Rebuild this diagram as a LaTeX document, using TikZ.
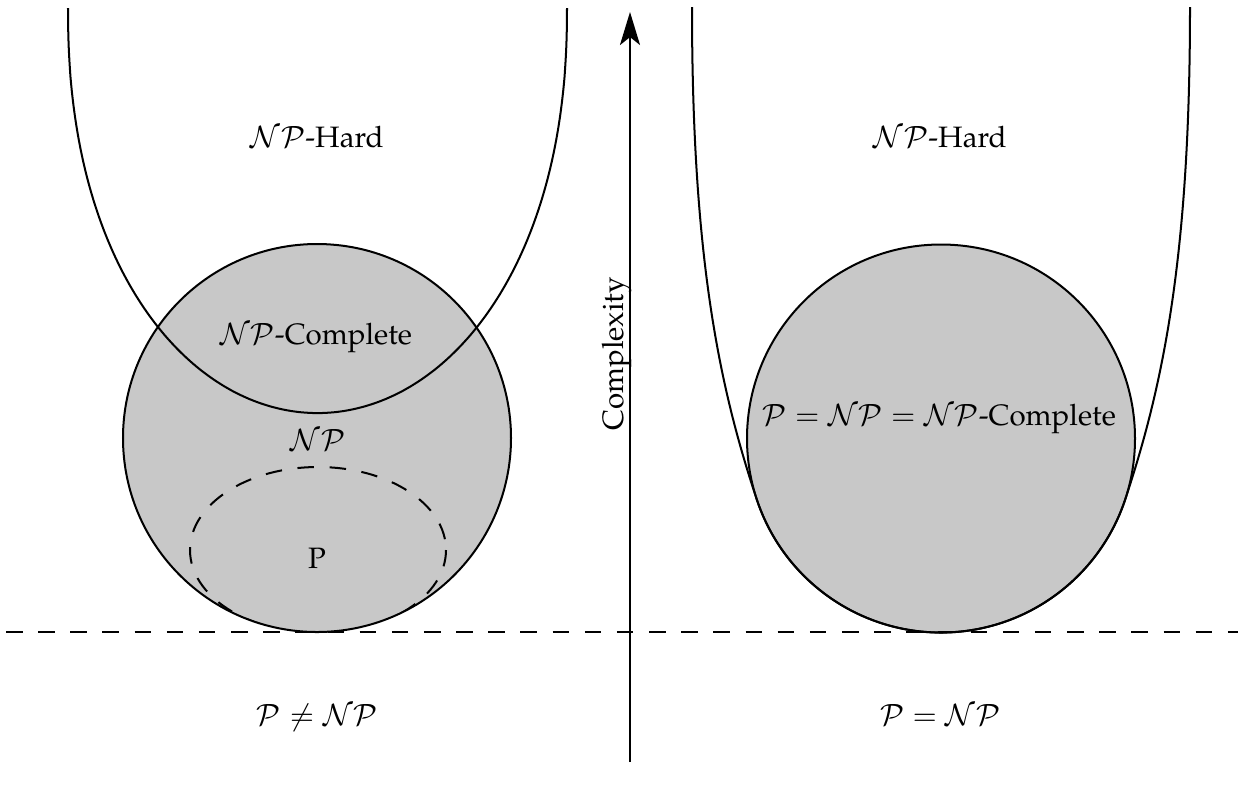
\documentclass[tikz,border=0pt]{standalone}
\usepackage[T1]{fontenc}
\usepackage{mathpazo}
\usetikzlibrary{arrows.meta}
\definecolor{setgray}{gray}{0.784}
\begin{document}
\begin{tikzpicture}[x=0.339pt,y=-0.339pt,
  curve/.style={line width=0.68pt},
  dashline/.style={line width=0.68pt, dash pattern=on 5.6pt off 5.3pt},
  lbl/.style={anchor=base, inner sep=0pt}]
\useasboundingbox (0,0) rectangle (1238,789);
% ---------- left: P != NP ----------
\fill[setgray] (317,438) circle [radius=194];
\draw[curve] (317,438) circle [radius=194];
\begin{scope}
  \clip (317,438) circle [radius=194];
  \draw[dashline] (318,550) ellipse [x radius=128, y radius=83];
\end{scope}
\draw[curve] plot[domain=-90:90, samples=181, variable=\t]
  ({317.5+249.5*sin(\t)}, {413-405*(1-(max(cos(\t),0.00001))^0.909)});
% ---------- right: P = NP ----------
\fill[setgray] (941,438.5) circle [radius=194];
\draw[curve] (941,438.5) circle [radius=194];
\draw[curve] (692,7) .. controls (692,257) and (719,386.2) .. (757,500.1)
  arc[start angle=161.5, end angle=18.5, radius=194]
  .. controls (1163,386.2) and (1190,257) .. (1190,7);
% ---------- axis and separator ----------
\coordinate (axbot) at (630,762);
\coordinate (axtop) at (630,12);
\draw[curve,-{Stealth[length=11.2pt,width=6.8pt,inset=2.7pt]}] (axbot) -- (axtop);
\coordinate (dl) at (6,632);
\coordinate (dr) at (1238,632);
\draw[dashline] (dl) -- (dr);
% ---------- labels ----------
\node[lbl] (lhard) at (317,147) {$\mathcal{NP}$-Hard};
\node[lbl] (lcomp) at (316,344) {$\mathcal{NP}$-Complete};
\node[lbl] (lnp) at (318,450) {$\mathcal{NP}$};
\node[lbl] (lp) at (317,568) {P};
\node[lbl] (lneq) at (317,725) {$\mathcal{P}\neq\mathcal{NP}$};
\node[lbl] (rhard) at (940,147) {$\mathcal{NP}$-Hard};
\node[lbl] (rall) at (939,425) {$\mathcal{P}=\mathcal{NP}=\mathcal{NP}$-Complete};
\node[lbl] (req) at (940,725) {$\mathcal{P}=\mathcal{NP}$};
\node[rotate=90, anchor=base, inner sep=0pt] (cx) at (623,354) {Complexity};
\end{tikzpicture}
\end{document}
